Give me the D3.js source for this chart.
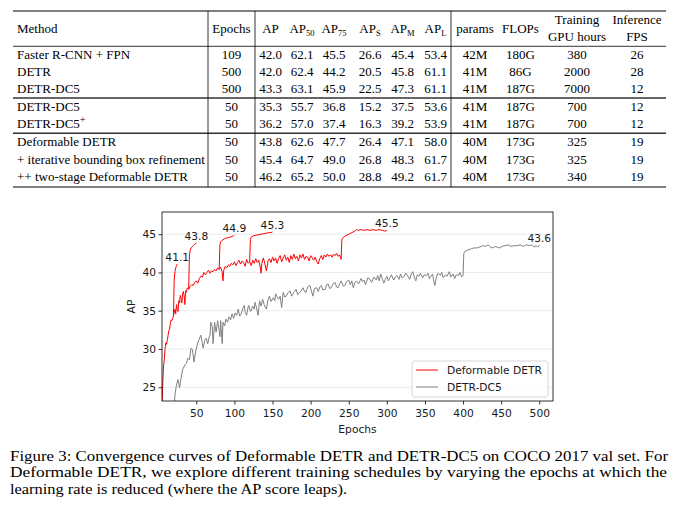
<!DOCTYPE html>
<html>
<head>
<meta charset="utf-8">
<script src="https://cdn.jsdelivr.net/npm/d3@7"></script>
<style>
  html, body { margin: 0; padding: 0; background: #fff; }
  svg { display: block; }
</style>
</head>
<body>
<div id="figure"></div>
<script>
////////////// TABLE DATA //////////////

const methods = ["Faster R-CNN + FPN", "DETR", "DETR-DC5", "DETR-DC5", "DETR-DC5",
    "Deformable DETR", "+ iterative bounding box refinement", "++ two-stage Deformable DETR"];
const methodSup = ["", "", "", "", "+", "", "", ""];
const rowGroup = [0, 0, 0, 1, 1, 2, 2, 2];
const epochs = [109, 500, 500, 50, 50, 50, 50, 50];
const apHeads = ["", "50", "75", "S", "M", "L"];
const apValues = [
    [42.0, 62.1, 45.5, 26.6, 45.4, 53.4],
    [42.0, 62.4, 44.2, 20.5, 45.8, 61.1],
    [43.3, 63.1, 45.9, 22.5, 47.3, 61.1],
    [35.3, 55.7, 36.8, 15.2, 37.5, 53.6],
    [36.2, 57.0, 37.4, 16.3, 39.2, 53.9],
    [43.8, 62.6, 47.7, 26.4, 47.1, 58.0],
    [45.4, 64.7, 49.0, 26.8, 48.3, 61.7],
    [46.2, 65.2, 50.0, 28.8, 49.2, 61.7]
];
const params = ["42M", "41M", "41M", "41M", "41M", "40M", "40M", "40M"];
const flops = ["180G", "86G", "187G", "187G", "187G", "173G", "173G", "173G"];
const gpuHours = [380, 2000, 7000, 700, 700, 325, 325, 340];
const fps = [26, 28, 12, 12, 12, 19, 19, 19];

////////////// CHART DATA //////////////

// [epoch, AP]
const deformMain = [
    [5, 22.5], [6, 25.5], [7, 27.8], [8, 28.6], [9, 30.0], [10, 30.8], [11, 30.6], [12, 31.2],
    [13, 31.8], [14, 32.4], [15, 32.6], [16, 33.4], [17, 33.8], [18, 33.7], [19, 34.0], [20, 34.3],
    [21, 34.8], [22, 35.2], [23, 34.6], [24, 35.8], [25, 35.2], [26, 34.9], [27, 36.3], [28, 36.0],
    [29, 37.0], [30, 36.6], [31, 36.0], [32, 37.2], [33, 37.5], [34, 37.0], [35, 35.8], [36, 37.6],
    [37, 37.4], [38, 37.9], [39, 38.0], [40, 37.8], [42, 38.2], [44, 38.4], [46, 38.3], [48, 38.7],
    [50, 38.9], [52, 38.6], [54, 39.2], [56, 39.5], [58, 39.4], [60, 40.0], [62, 39.7], [64, 40.0],
    [66, 40.3], [68, 39.9], [70, 40.2], [72, 40.1], [74, 40.4], [76, 40.2], [78, 40.6], [80, 40.4],
    [82, 40.7], [84, 40.0], [85, 38.9], [86, 40.3], [88, 40.8], [90, 40.6], [92, 41.0], [94, 40.8],
    [96, 41.2], [98, 41.0], [100, 41.4], [102, 40.9], [104, 41.3], [106, 41.6], [108, 41.1], [110, 41.5],
    [112, 41.3], [114, 40.8], [116, 41.7], [118, 41.2], [120, 41.4], [122, 40.9], [124, 41.6], [126, 41.2],
    [128, 41.8], [130, 41.3], [132, 41.6], [134, 40.6], [135, 39.9], [136, 41.2], [138, 41.9], [140, 41.1],
    [142, 40.2], [144, 41.5], [146, 41.8], [148, 41.3], [150, 42.0], [152, 41.5], [154, 41.9], [156, 41.2],
    [158, 41.8], [160, 42.2], [162, 41.4], [164, 41.9], [166, 42.3], [168, 41.6], [170, 42.0], [172, 41.3],
    [174, 42.2], [176, 41.7], [178, 42.4], [180, 41.8], [182, 42.1], [184, 41.5], [186, 42.3], [188, 41.9],
    [190, 42.4], [192, 41.7], [194, 42.1], [196, 42.0], [198, 41.5], [200, 42.2], [202, 41.9], [204, 41.6],
    [206, 42.0], [208, 41.4], [210, 41.1], [212, 41.8], [214, 42.2], [216, 41.7], [218, 42.3], [220, 42.0],
    [222, 42.4], [224, 42.1], [226, 42.3], [228, 42.0], [230, 42.4], [232, 42.2], [234, 42.5], [236, 42.1],
    [238, 42.3], [240, 41.7]
];
const deformDrop20 = [[20, 34.3], [21, 39.0], [22, 40.1], [23, 40.6], [24, 40.9], [25, 41.1]];
const deformDrop40 = [[40, 37.8], [41, 42.3], [42, 42.9], [43, 43.2], [44, 43.3], [46, 43.5], [48, 43.7], [50, 43.8]];
const deformDrop80 = [[80, 40.4], [81, 43.6], [82, 44.0], [84, 44.2], [87, 44.4], [90, 44.5], [94, 44.6],
    [97, 44.7], [99, 44.8], [100, 44.9]];
const deformDrop120 = [[120, 41.4], [121, 44.3], [122, 44.6], [125, 44.8], [130, 44.9], [135, 45.0],
    [140, 45.1], [145, 45.2], [148, 45.2], [150, 45.3]];
const deformDrop240 = [[240, 41.7], [241, 44.3], [243, 44.6], [246, 44.8], [250, 45.0], [254, 45.2],
    [258, 45.4], [260, 45.6], [263, 45.5], [266, 45.6], [270, 45.5], [274, 45.6], [278, 45.5], [282, 45.6],
    [286, 45.5], [290, 45.6], [294, 45.5], [297, 45.4], [300, 45.5]];
const dc5Curve = [
    [21, 22.5], [22, 24.0], [24, 25.3], [26, 26.0], [28, 24.9], [30, 26.2], [32, 27.3], [35, 27.9],
    [37, 28.1], [39, 28.8], [41, 28.6], [43, 30.1], [45, 29.9], [47, 28.3], [49, 29.6], [51, 30.5],
    [53, 31.1], [56, 31.8], [58, 30.7], [59, 30.1], [61, 31.1], [63, 31.4], [65, 30.7], [67, 31.6],
    [68, 31.8], [69, 33.5], [71, 32.9], [72, 30.7], [74, 33.5], [76, 32.2], [78, 33.7], [80, 32.4],
    [81, 31.6], [82, 33.7], [84, 30.7], [85, 33.5], [87, 33.0], [89, 33.9], [91, 33.5], [93, 34.2],
    [95, 33.8], [97, 34.6], [99, 34.0], [101, 34.7], [103, 34.4], [105, 35.2], [107, 34.3], [109, 34.6],
    [111, 35.3], [113, 35.7], [114, 34.8], [116, 34.4], [118, 35.5], [119, 35.7], [121, 34.9], [122, 35.0],
    [124, 35.6], [126, 35.2], [127, 36.1], [129, 35.4], [131, 34.4], [133, 36.3], [135, 35.6], [137, 36.5],
    [139, 35.8], [142, 35.2], [144, 36.4], [146, 36.9], [148, 36.2], [151, 36.7], [153, 36.3], [154, 37.2],
    [156, 36.8], [158, 36.5], [160, 36.9], [162, 35.4], [164, 37.4], [166, 36.8], [168, 36.9], [170, 37.3],
    [173, 37.6], [175, 36.9], [177, 37.2], [179, 37.5], [181, 37.8], [183, 37.1], [186, 37.4], [188, 37.7],
    [190, 38.0], [192, 37.5], [194, 37.4], [196, 38.1], [199, 38.3], [201, 37.6], [203, 36.9], [205, 37.9],
    [208, 38.0], [210, 37.5], [212, 38.1], [214, 38.3], [216, 37.7], [219, 37.8], [221, 38.4], [223, 38.5],
    [225, 37.9], [227, 38.0], [230, 38.6], [232, 38.7], [234, 38.1], [236, 38.0], [238, 38.5], [240, 38.9],
    [243, 38.2], [245, 38.3], [247, 38.8], [250, 39.0], [252, 38.4], [254, 38.9], [256, 38.0], [258, 38.7],
    [260, 38.9], [263, 38.5], [266, 39.2], [268, 38.8], [270, 39.0], [272, 38.4], [275, 39.3], [278, 39.1],
    [280, 38.7], [283, 39.4], [286, 39.0], [288, 39.6], [290, 38.9], [292, 39.8], [294, 39.2], [296, 38.6],
    [298, 39.1], [300, 39.5], [302, 38.9], [304, 39.3], [306, 39.7], [309, 39.0], [311, 39.4], [313, 39.6],
    [316, 39.1], [318, 39.8], [320, 39.3], [322, 39.4], [325, 39.9], [327, 39.6], [330, 39.1], [332, 39.8],
    [334, 40.1], [336, 39.4], [338, 38.9], [340, 39.7], [342, 39.5], [344, 39.9], [347, 39.3], [349, 39.7],
    [352, 39.6], [354, 39.9], [356, 39.2], [358, 39.5], [360, 39.8], [362, 38.6], [363, 38.3], [365, 39.4],
    [367, 39.9], [370, 39.6], [372, 40.0], [374, 39.3], [377, 39.7], [379, 39.5], [382, 40.1], [384, 39.4],
    [387, 39.8], [389, 39.2], [391, 39.7], [394, 39.6], [396, 40.0], [398, 39.4], [400, 39.6], [401, 42.5],
    [403, 42.8], [405, 42.9], [408, 43.0], [411, 43.1], [414, 43.2], [418, 43.2], [421, 43.3], [424, 43.4],
    [427, 43.5], [430, 43.4], [433, 43.6], [436, 43.3], [439, 43.2], [442, 43.4], [445, 43.3], [448, 43.2],
    [451, 43.4], [455, 43.5], [459, 43.6], [463, 43.4], [467, 43.5], [471, 43.5], [475, 43.6], [479, 43.4],
    [483, 43.6], [487, 43.5], [490, 43.6], [493, 43.3], [496, 43.5], [498, 43.3], [500, 43.6]
];
const xTicks = [50, 100, 150, 200, 250, 300, 350, 400, 450, 500];
const yTicks = [25, 30, 35, 40, 45];
const legendNames = ["Deformable DETR", "DETR-DC5"];

const captionLines = [
    "Figure 3: Convergence curves of Deformable DETR and DETR-DC5 on COCO 2017 val set. For",
    "Deformable DETR, we explore different training schedules by varying the epochs at which the",
    "learning rate is reduced (where the AP score leaps)."
];

////////////// SETUP //////////////

const width = 681, height = 510;
const serif = "'Liberation Serif', 'Times New Roman', serif";
const sans = "'DejaVu Sans', sans-serif";

const svg = d3.select("#figure").append("svg")
    .attr("width", width)
    .attr("height", height);

////////////// TABLE //////////////

const tbl = svg.append("g")
    .attr("font-family", serif)
    .attr("font-size", 13)
    .attr("fill", "#000");

const tableLeft = 13, tableRight = 666, tableTop = 11, tableBottom = 187, headRule = 46.3;
const methodX = 17;
const colCenter = d3.scaleOrdinal()
    .domain(["epochs", "ap0", "ap1", "ap2", "ap3", "ap4", "ap5", "params", "flops", "gpu", "fps"])
    .range([231.5, 270.5, 302, 334, 370, 402.5, 435.5, 475, 520.5, 577, 637]);
const rowY = i => 58.6 + i * 17.3 + rowGroup[i] * 0.6;

function addText(g, x, y, txt, anchor, sub, sup) {
    const t = g.append("text")
        .attr("x", x)
        .attr("y", y)
        .attr("text-anchor", anchor)
        .text(txt);
    if (sub) {
        t.append("tspan").attr("font-size", 8.5).attr("dy", 3).text(sub);
    }
    if (sup) {
        t.append("tspan").attr("font-size", 10.5).attr("dy", -5.5).text(sup);
    }
    return t;
}

// header
addText(tbl, methodX, 32.5, "Method", "start");
addText(tbl, colCenter("epochs"), 32.5, "Epochs", "middle");
apHeads.forEach((s, j) => addText(tbl, colCenter("ap" + j), 32.5, "AP", "middle", s));
addText(tbl, colCenter("params"), 32.5, "params", "middle");
addText(tbl, colCenter("flops"), 32.5, "FLOPs", "middle");
addText(tbl, colCenter("gpu"), 24.3, "Training", "middle");
addText(tbl, colCenter("gpu"), 41, "GPU hours", "middle");
addText(tbl, colCenter("fps"), 24.3, "Inference", "middle");
addText(tbl, colCenter("fps"), 41, "FPS", "middle");

// rows
methods.forEach((m, i) => {
    const y = rowY(i);
    addText(tbl, methodX, y, m, "start", null, methodSup[i]);
    addText(tbl, colCenter("epochs"), y, epochs[i], "middle");
    apValues[i].forEach((v, j) => addText(tbl, colCenter("ap" + j), y, v.toFixed(1), "middle"));
    addText(tbl, colCenter("params"), y, params[i], "middle");
    addText(tbl, colCenter("flops"), y, flops[i], "middle");
    addText(tbl, colCenter("gpu"), y, gpuHours[i], "middle");
    addText(tbl, colCenter("fps"), y, fps[i], "middle");
});

// rules
const hRules = [
    { y: tableTop, w: 1.2, c: "#000" },
    { y: headRule, w: 0.8, c: "#000" },
    { y: tableBottom, w: 1.2, c: "#000" }
];
d3.range(1, 3).forEach(gIdx => {
    const last = d3.max(rowGroup.map((g, i) => g === gIdx - 1 ? i : -1));
    hRules.push({ y: rowY(last) + 4.8, w: 1.5, c: "#333" });
});
tbl.selectAll("line.h").data(hRules).enter().append("line")
    .attr("class", "h")
    .attr("x1", tableLeft).attr("x2", tableRight)
    .attr("y1", d => d.y).attr("y2", d => d.y)
    .attr("stroke", d => d.c)
    .attr("stroke-width", d => d.w);
tbl.selectAll("line.v").data([208, 255, 451]).enter().append("line")
    .attr("class", "v")
    .attr("x1", d => d).attr("x2", d => d)
    .attr("y1", tableTop).attr("y2", tableBottom)
    .attr("stroke", "#000")
    .attr("stroke-width", 0.8);

////////////// CHART //////////////

const plot = { left: 162, right: 553, top: 212, bottom: 401 };

const x = d3.scaleLinear().domain([5, 518]).range([plot.left, plot.right]);
const y = d3.scaleLinear().domain([23.2, 47.9]).range([plot.bottom, plot.top]);

const chart = svg.append("g")
    .attr("font-family", sans)
    .attr("font-size", 10.7);

svg.append("defs").append("clipPath")
    .attr("id", "plotClip")
    .append("rect")
    .attr("x", plot.left).attr("y", plot.top)
    .attr("width", plot.right - plot.left)
    .attr("height", plot.bottom - plot.top);

// grid
chart.append("g").selectAll("line").data(yTicks).enter().append("line")
    .attr("x1", plot.left).attr("x2", plot.right)
    .attr("y1", d => y(d)).attr("y2", d => y(d))
    .attr("stroke", "#ebebeb")
    .attr("stroke-width", 1);

// curves
const line = d3.line().x(d => x(d[0])).y(d => y(d[1]));
const curves = chart.append("g").attr("clip-path", "url(#plotClip)").attr("fill", "none");

const redSeries = [deformMain, deformDrop20, deformDrop40, deformDrop80, deformDrop120, deformDrop240];
curves.selectAll("path.red").data(redSeries).enter().append("path")
    .attr("class", "red")
    .attr("d", line)
    .attr("stroke", "#ff0000")
    .attr("stroke-width", 1);
curves.append("path")
    .attr("d", line(dc5Curve))
    .attr("stroke", "#808080")
    .attr("stroke-width", 1);

// end-point labels
const labelled = [deformDrop20, deformDrop40, deformDrop80, deformDrop120, deformDrop240, dc5Curve];
chart.append("g").selectAll("text").data(labelled).enter().append("text")
    .attr("x", d => x(d[d.length - 1][0]))
    .attr("y", d => y(d[d.length - 1][1]) - 3)
    .attr("text-anchor", "middle")
    .attr("fill", "#1a1a1a")
    .text(d => d[d.length - 1][1].toFixed(1));

// axes
const xAxis = chart.append("g")
    .attr("transform", `translate(0,${plot.bottom})`)
    .call(d3.axisBottom(x).tickValues(xTicks).tickSize(3.5).tickPadding(4.5));
const yAxis = chart.append("g")
    .attr("transform", `translate(${plot.left},0)`)
    .call(d3.axisLeft(y).tickValues(yTicks).tickSize(3.5).tickPadding(2.5));
[xAxis, yAxis].forEach(a => {
    a.select(".domain").remove();
    a.attr("font-family", sans).attr("font-size", 10.7);
    a.selectAll("line").attr("stroke", "#000").attr("stroke-width", 0.8);
    a.selectAll("text").attr("fill", "#1a1a1a");
});

chart.append("rect")
    .attr("x", plot.left).attr("y", plot.top)
    .attr("width", plot.right - plot.left)
    .attr("height", plot.bottom - plot.top)
    .attr("fill", "none")
    .attr("stroke", "#000")
    .attr("stroke-width", 0.8);

chart.append("text")
    .attr("x", (plot.left + plot.right) / 2)
    .attr("y", 433)
    .attr("text-anchor", "middle")
    .attr("fill", "#1a1a1a")
    .text("Epochs");
chart.append("text")
    .attr("transform", `translate(135,${(plot.top + plot.bottom) / 2}) rotate(-90)`)
    .attr("text-anchor", "middle")
    .attr("fill", "#1a1a1a")
    .text("AP");

// legend
const legend = chart.append("g").attr("transform", "translate(412,361)");
legend.append("rect")
    .attr("width", 136).attr("height", 36)
    .attr("rx", 2.5)
    .attr("fill", "#fff")
    .attr("fill-opacity", 0.8)
    .attr("stroke", "#cccccc")
    .attr("stroke-width", 0.8);
const legendColor = d3.scaleOrdinal().domain(legendNames).range(["#ff0000", "#808080"]);
const legendRow = d3.scalePoint().domain(legendNames).range([9, 26]);
const entries = legend.selectAll("g.entry").data(legendNames).enter().append("g")
    .attr("class", "entry")
    .attr("transform", d => `translate(0,${legendRow(d)})`);
entries.append("line")
    .attr("x1", 4).attr("x2", 26)
    .attr("stroke", d => legendColor(d))
    .attr("stroke-width", 1);
entries.append("text")
    .attr("x", 35)
    .attr("dy", "0.35em")
    .attr("fill", "#1a1a1a")
    .text(d => d);

////////////// CAPTION //////////////

const caption = svg.append("g")
    .attr("font-family", serif)
    .attr("font-size", 14)
    .attr("fill", "#000");
const captionWidths = [658, 657, 337];
caption.selectAll("text").data(captionLines).enter().append("text")
    .attr("x", 10)
    .attr("y", (d, i) => 461 + i * 16.25)
    .attr("textLength", (d, i) => captionWidths[i])
    .attr("lengthAdjust", "spacingAndGlyphs")
    .text(d => d);
</script>
</body>
</html>
